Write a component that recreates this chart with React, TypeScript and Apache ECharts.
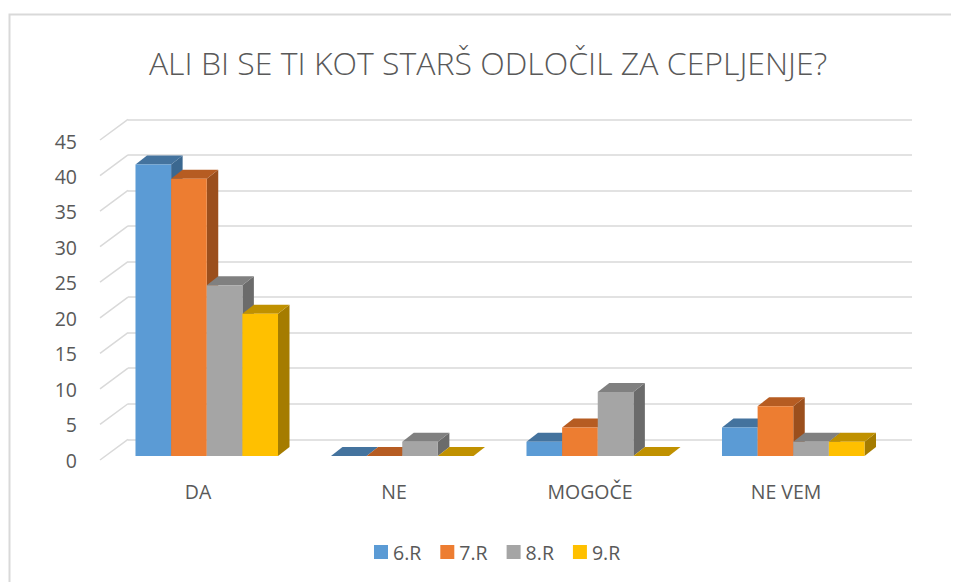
import React, { useEffect, useRef } from "react";
import * as echarts from "echarts";

const categories = ["DA", "NE", "MOGOČE", "NE VEM"];
const seriesNames = ["6.R", "7.R", "8.R", "9.R"];
const values6R = [41, 0, 2, 4];
const values7R = [39, 0, 4, 7];
const values8R = [24, 2, 9, 2];
const values9R = [20, 0, 0, 2];
const yTicks = [0, 5, 10, 15, 20, 25, 30, 35, 40, 45];
const titleText = "ALI BI SE TI KOT STARŠ ODLOČIL ZA CEPLJENJE?";

const seriesValues = [values6R, values7R, values8R, values9R];
const frontColors = ["#5B9BD5", "#ED7D31", "#A5A5A5", "#FFC000"];
const topColors = ["#44739E", "#B65C22", "#808080", "#C09100"];
const sideColors = ["#3B6890", "#9B4F1D", "#6B6B6B", "#A57C00"];

const FONT = "'Open Sans', sans-serif";
const TEXT = "#595959";
const GRID = "#D9D9D9";

export default function App() {
  const ref = useRef<HTMLDivElement>(null);
  useEffect(() => {
    document.body.style.margin = "0";
    const chart = echarts.init(ref.current!, null, { renderer: "svg" });
    const depthX = 11.5;
    const depthY = -9;
    const wallX = 28;
    const wallY = 20.7;

    const barSeries = seriesValues.map((vals, s) => ({
      type: "custom",
      name: seriesNames[s],
      xAxisIndex: 2,
      yAxisIndex: 2,
      itemStyle: { color: frontColors[s] },
      data: vals.map((v, i) => [i, v]),
      renderItem: (params: any, api: any) => {
        const ci = api.value(0);
        const v = api.value(1);
        const base = api.coord([ci, 0]);
        const top = api.coord([ci, v]);
        const band = api.size([1, 0])[0];
        const groupW = band * 0.729;
        const bw = groupW / 4;
        const x0 = base[0] - groupW / 2 + s * bw;
        const x1 = x0 + bw;
        const yb = base[1];
        const yt = top[1];
        return {
          type: "group",
          children: [
            {
              type: "polygon",
              shape: {
                points: [
                  [x1, yt],
                  [x1 + depthX, yt + depthY],
                  [x1 + depthX, yb + depthY],
                  [x1, yb],
                ],
              },
              style: { fill: sideColors[s] },
            },
            {
              type: "polygon",
              shape: {
                points: [
                  [x0, yt],
                  [x1, yt],
                  [x1 + depthX, yt + depthY],
                  [x0 + depthX, yt + depthY],
                ],
              },
              style: { fill: topColors[s] },
            },
            {
              type: "rect",
              shape: { x: x0, y: yt, width: bw, height: Math.max(0, yb - yt) },
              style: { fill: frontColors[s] },
            },
          ],
        };
      },
    }));

    chart.setOption({
      animation: false,
      backgroundColor: "#ffffff",
      graphic: [
        {
          type: "polyline",
          shape: { points: [[9.5, 582], [9.5, 14.5], [951, 14.5]] },
          style: { stroke: GRID, lineWidth: 2, fill: null },
          silent: true,
        },
        {
          type: "text",
          x: 488,
          y: 62,
          style: {
            text: titleText,
            align: "center",
            verticalAlign: "middle",
            fontFamily: FONT,
            fontSize: 32,
            fontWeight: 300,
            fill: TEXT,
          },
        },
      ],
      legend: {
        data: seriesNames,
        left: 369,
        top: 537,
        icon: "rect",
        itemWidth: 14,
        itemHeight: 14,
        itemGap: 19,
        textStyle: { fontFamily: FONT, fontSize: 19.5, color: TEXT },
      },
      grid: [
        { left: 100, right: 73, top: 141, bottom: 122 },
        { left: 128, right: 45, top: 119.3, bottom: 142.7 },
        { left: 109, right: 66, top: 136, bottom: 126 },
      ],
      xAxis: [
        {
          type: "category",
          gridIndex: 0,
          data: categories,
          axisLine: { show: false },
          axisTick: { show: false },
          axisLabel: { margin: 21, fontFamily: FONT, fontSize: 19.5, color: TEXT },
        },
        { type: "value", gridIndex: 1, min: 0, max: 1, show: false },
        { type: "category", gridIndex: 2, data: categories, show: false },
      ],
      yAxis: [
        {
          type: "value",
          gridIndex: 0,
          min: 0,
          max: 45,
          interval: 5,
          axisLine: { show: false },
          axisTick: { show: false },
          splitLine: { show: false },
          axisLabel: { margin: 23, fontFamily: FONT, fontSize: 19.5, color: TEXT },
        },
        {
          type: "value",
          gridIndex: 1,
          min: 0,
          max: 45,
          interval: 5,
          axisLine: { show: false },
          axisTick: { show: false },
          axisLabel: { show: false },
          splitLine: { show: true, lineStyle: { color: GRID, width: 1.5 } },
        },
        { type: "value", gridIndex: 2, min: 0, max: 45, interval: 5, show: false, splitLine: { show: false } },
      ],
      series: [
        {
          type: "custom",
          name: "walls",
          xAxisIndex: 1,
          yAxisIndex: 1,
          silent: true,
          data: yTicks.map((t) => [0, t]),
          renderItem: (params: any, api: any) => {
            const p = api.coord([0, api.value(1)]);
            return {
              type: "line",
              shape: { x1: p[0] - wallX, y1: p[1] + wallY, x2: p[0], y2: p[1] },
              style: { stroke: GRID, lineWidth: 1.5 },
            };
          },
        },
        ...barSeries,
      ],
    });
    return () => chart.dispose();
  }, []);
  return <div ref={ref} style={{ width: 957, height: 582 }} />;
}
